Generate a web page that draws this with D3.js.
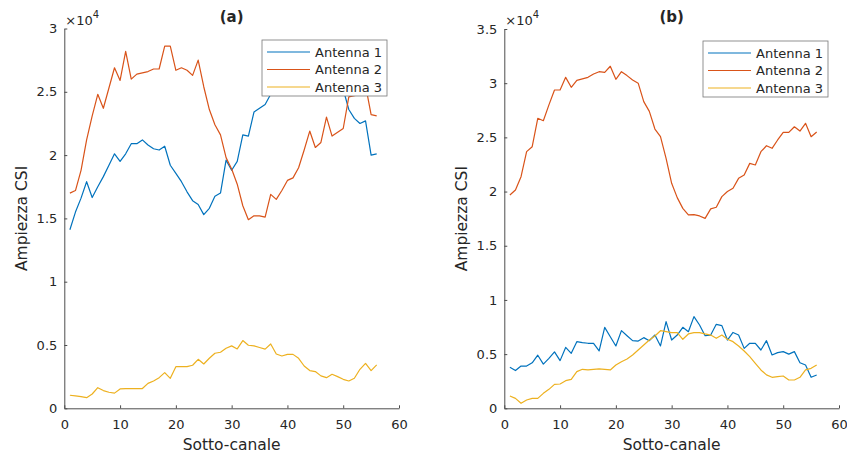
<!DOCTYPE html>
<html><head><meta charset="utf-8">
<script src="https://cdn.jsdelivr.net/npm/d3@7"></script>
<style>body{margin:0;background:#fff}svg{display:block}text{font-family:"DejaVu Sans",sans-serif;fill:#262626}</style>
</head><body>
<svg id="c" width="847" height="457"></svg>
<script>
// Sub-channel index (x)
const subchannels = [1,2,3,4,5,6,7,8,9,10,11,12,13,14,15,16,17,18,19,20,21,22,23,24,25,26,27,28,29,30,31,32,33,34,35,36,37,38,39,40,41,42,43,44,45,46,47,48,49,50,51,52,53,54,55,56];
const seriesNames = ["Antenna 1","Antenna 2","Antenna 3"];
// Values in units of 10^4
const a_ant1 = [1.41,1.55,1.66,1.79,1.665,1.75,1.83,1.92,2.01,1.95,2.01,2.09,2.09,2.12,2.08,2.05,2.04,2.07,1.92,1.855,1.79,1.71,1.64,1.61,1.53,1.58,1.675,1.70,1.96,1.88,1.95,2.16,2.15,2.34,2.37,2.40,2.48,2.55,2.60,2.62,2.65,2.70,2.68,2.72,2.70,2.66,2.65,2.60,2.58,2.52,2.36,2.29,2.25,2.27,2.00,2.01];
const a_ant2 = [1.70,1.72,1.88,2.12,2.31,2.48,2.37,2.53,2.69,2.59,2.82,2.60,2.64,2.65,2.66,2.68,2.68,2.86,2.86,2.67,2.69,2.67,2.63,2.75,2.54,2.36,2.24,2.16,1.98,1.89,1.77,1.60,1.49,1.52,1.52,1.51,1.69,1.65,1.72,1.80,1.82,1.90,2.04,2.19,2.06,2.10,2.30,2.15,2.18,2.21,2.46,2.47,2.48,2.55,2.32,2.31];
const a_ant3 = [0.103,0.098,0.092,0.084,0.113,0.163,0.14,0.127,0.12,0.153,0.156,0.156,0.156,0.156,0.197,0.216,0.242,0.282,0.237,0.329,0.329,0.329,0.34,0.387,0.35,0.395,0.435,0.443,0.474,0.493,0.469,0.535,0.498,0.493,0.48,0.467,0.508,0.429,0.413,0.426,0.426,0.395,0.334,0.298,0.29,0.256,0.242,0.269,0.25,0.229,0.216,0.237,0.308,0.355,0.298,0.343];
const b_ant1 = [0.378,0.348,0.39,0.39,0.42,0.49,0.408,0.46,0.52,0.44,0.562,0.507,0.615,0.606,0.60,0.60,0.529,0.747,0.66,0.575,0.717,0.67,0.624,0.62,0.652,0.624,0.676,0.575,0.80,0.63,0.676,0.747,0.707,0.846,0.769,0.67,0.676,0.775,0.763,0.63,0.70,0.676,0.553,0.60,0.60,0.538,0.624,0.492,0.514,0.523,0.50,0.523,0.42,0.40,0.286,0.307];
const b_ant2 = [1.968,2.014,2.137,2.368,2.414,2.676,2.654,2.80,2.937,2.937,3.054,2.962,3.026,3.04,3.054,3.085,3.106,3.10,3.156,3.036,3.106,3.07,3.03,3.0,2.83,2.74,2.577,2.506,2.306,2.076,1.944,1.845,1.784,1.787,1.775,1.753,1.84,1.855,1.953,2.0,2.03,2.122,2.153,2.26,2.245,2.368,2.423,2.399,2.476,2.546,2.546,2.598,2.558,2.63,2.506,2.55];
const b_ant3 = [0.114,0.092,0.046,0.077,0.092,0.092,0.138,0.175,0.221,0.224,0.255,0.267,0.338,0.36,0.354,0.36,0.363,0.36,0.354,0.40,0.43,0.455,0.492,0.538,0.584,0.63,0.667,0.716,0.707,0.698,0.698,0.637,0.686,0.698,0.698,0.686,0.676,0.646,0.676,0.637,0.615,0.575,0.529,0.477,0.415,0.354,0.308,0.286,0.292,0.298,0.261,0.261,0.286,0.354,0.369,0.40];
const xTicks = [0,10,20,30,40,50,60];
const yTicksA = [0,0.5,1,1.5,2,2.5,3];
const yTicksB = [0,0.5,1,1.5,2,2.5,3,3.5];
const colors = ["#0072BD","#D95319","#EDB120"];

const svg = d3.select("#c");
const panels = [
  {title:"(a)", series:[a_ant1,a_ant2,a_ant3], yTicks:yTicksA, ymax:3, L:64.3, R:399, T:28.5, B:408.3, legX:262, legY:40},
  {title:"(b)", series:[b_ant1,b_ant2,b_ant3], yTicks:yTicksB, ymax:3.5, L:504.3, R:839, T:29, B:408.3, legX:703, legY:41}
];
const axisCol = "#4d4d4d";
panels.forEach(p => {
  const x = d3.scaleLinear().domain([0,60]).range([p.L,p.R]);
  const y = d3.scaleLinear().domain([0,p.ymax]).range([p.B,p.T]);
  const g = svg.append("g");
  // lines
  const line = d3.line().x((d,i)=>x(subchannels[i])).y(d=>y(d));
  p.series.forEach((s,k)=>{
    g.append("path").datum(s).attr("d",line).attr("fill","none")
      .attr("stroke",colors[k]).attr("stroke-width",1.2).attr("stroke-linejoin","round");
  });
  // axes
  const xa = g.append("g").attr("transform",`translate(0,${p.B})`)
    .call(d3.axisBottom(x).tickValues(xTicks).tickSizeInner(-3).tickSizeOuter(0).tickPadding(8).tickFormat(d3.format("d")));
  const ya = g.append("g").attr("transform",`translate(${p.L},0)`)
    .call(d3.axisLeft(y).tickValues(p.yTicks).tickSizeInner(-3).tickSizeOuter(0).tickPadding(7).tickFormat(d=>String(d)));
  [xa,ya].forEach(a=>{
    a.select(".domain").attr("stroke",axisCol).attr("stroke-width",1);
    a.selectAll(".tick line").attr("stroke",axisCol);
    a.selectAll(".tick text").attr("font-size",13).attr("font-family","DejaVu Sans").attr("fill","#262626");
  });
  xa.selectAll(".tick text").attr("dy","0.95em");
  // axis labels
  g.append("text").attr("x",(p.L+p.R)/2).attr("y",450).attr("text-anchor","middle")
    .attr("font-size",15.5).text("Sotto-canale");
  g.append("text").attr("transform",`translate(${p.L-37},${(p.T+p.B)/2}) rotate(-90)`)
    .attr("text-anchor","middle").attr("font-size",15.5).text("Ampiezza CSI");
  // title
  g.append("text").attr("x",(p.L+p.R)/2).attr("y",22).attr("text-anchor","middle")
    .attr("font-size",15).attr("font-weight","bold").text(p.title);
  // exponent
  const ex = g.append("text").attr("x",p.L+1).attr("y",25).attr("font-size",13).attr("fill","#404040");
  ex.append("tspan").text("\u00d710");
  ex.append("tspan").attr("font-size",10).attr("dy",-7).text("4");
  // legend
  const lg = g.append("g").attr("transform",`translate(${p.legX},${p.legY})`);
  lg.append("rect").attr("width",125).attr("height",56).attr("fill","#fff")
    .attr("stroke","#777").attr("stroke-width",0.8);
  seriesNames.forEach((n,k)=>{
    const yy = 12 + k*17.5;
    lg.append("line").attr("x1",5).attr("x2",48).attr("y1",yy).attr("y2",yy)
      .attr("stroke",colors[k]).attr("stroke-width",1.2);
    lg.append("text").attr("x",53).attr("y",yy).attr("dy","0.36em").attr("font-size",13).text(n);
  });
});
</script>
</body></html>
